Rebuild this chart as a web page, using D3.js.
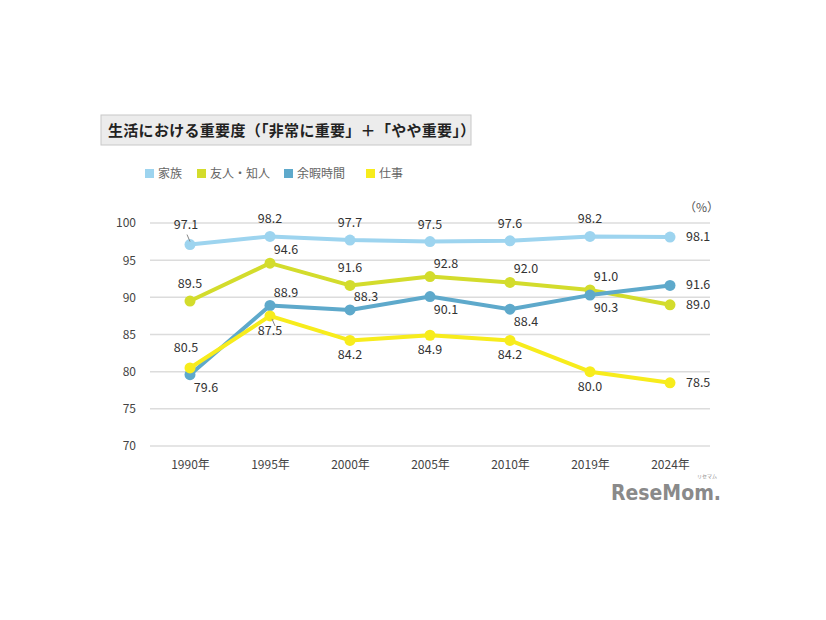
<!DOCTYPE html>
<html>
<head>
<meta charset="utf-8">
<script src="https://cdn.jsdelivr.net/npm/d3@7"></script>
<style>
  body { margin: 0; background: #fff; }
  svg { font-family: "Noto Sans CJK JP", "Noto Sans", sans-serif; }
</style>
</head>
<body>
<div id="chart"></div>
<script>
// Data
const years = ["1990年", "1995年", "2000年", "2005年", "2010年", "2019年", "2024年"];
const seriesNames = ["家族", "友人・知人", "余暇時間", "仕事"];
const family = [97.1, 98.2, 97.7, 97.5, 97.6, 98.2, 98.1];
const friends = [89.5, 94.6, 91.6, 92.8, 92.0, 91.0, 89.0];
const leisure = [79.6, 88.9, 88.3, 90.1, 88.4, 90.3, 91.6];
const work = [80.5, 87.5, 84.2, 84.9, 84.2, 80.0, 78.5];
const yTicks = [70, 75, 80, 85, 90, 95, 100];

// label placement per point (a = above, b = below, r = right, ar = above-right, br = below-right, al = above-left)
const familyPos = ["al", "a", "a", "a", "a", "a", "r"];
const friendsPos = ["a", "ar", "a", "ar", "ar", "ar", "r"];
const leisurePos = ["br", "ar", "ar", "br", "br", "br", "r"];
const workPos = ["al", "b", "b", "b", "b", "b", "r"];

const colors = ["#9dd4ef", "#d3dc2c", "#5ea9cb", "#f7ec1c"];

const width = 826, height = 620;
const svg = d3.select("#chart").append("svg")
    .attr("width", width)
    .attr("height", height);

// Title box
svg.append("rect")
    .attr("x", 101).attr("y", 115)
    .attr("width", 370).attr("height", 30)
    .attr("fill", "#ececec")
    .attr("stroke", "#c8c8c8");
svg.append("text")
    .attr("x", 108).attr("y", 136)
    .attr("font-size", 15)
    .attr("font-weight", "bold")
    .attr("letter-spacing", 0.3)
    .attr("fill", "#222")
    .text("生活における重要度（「非常に重要」＋「やや重要」）");

// Legend
const legendX = [145, 197, 284, 366];
const legend = svg.append("g");
seriesNames.forEach((name, i) => {
    legend.append("rect")
        .attr("x", legendX[i]).attr("y", 169)
        .attr("width", 9).attr("height", 9)
        .attr("fill", colors[i]);
    legend.append("text")
        .attr("x", legendX[i] + 13).attr("y", 178)
        .attr("font-size", 12)
        .attr("fill", "#666")
        .text(name);
});

// Scales
const x = d3.scalePoint()
    .domain(years)
    .range([150, 710])
    .padding(0.5);

const y = d3.scaleLinear()
    .domain([70, 100])
    .range([446, 223]);

// Grid lines
svg.append("g")
    .selectAll("line")
    .data(yTicks)
    .join("line")
    .attr("x1", 150).attr("x2", 710)
    .attr("y1", d => y(d)).attr("y2", d => y(d))
    .attr("stroke", "#dcdcdc")
    .attr("stroke-width", 1.5);

// Y axis
const yAxis = svg.append("g")
    .attr("transform", "translate(140,0)")
    .call(d3.axisLeft(y).tickValues(yTicks).tickSize(0).tickPadding(4));
yAxis.select(".domain").remove();
yAxis.selectAll("text")
    .attr("font-size", 12)
    .attr("fill", "#444")
    .attr("font-family", "\"Noto Sans CJK JP\", sans-serif");

// X axis
const xAxis = svg.append("g")
    .attr("transform", "translate(0,458)")
    .call(d3.axisBottom(x).tickSize(0).tickPadding(2));
xAxis.select(".domain").remove();
xAxis.selectAll("text")
    .attr("font-size", 12)
    .attr("fill", "#444")
    .attr("font-family", "\"Noto Sans CJK JP\", sans-serif");

// (%)
svg.append("text")
    .attr("x", 684).attr("y", 212)
    .attr("font-size", 12)
    .attr("fill", "#555")
    .text("（%）");

// Series
const allSeries = [family, friends, leisure, work];
const allPos = [familyPos, friendsPos, leisurePos, workPos];

const line = d3.line()
    .x((d, i) => x(years[i]))
    .y(d => y(d));

allSeries.forEach((vals, s) => {
    const g = svg.append("g");
    g.append("path")
        .datum(vals)
        .attr("d", line)
        .attr("fill", "none")
        .attr("stroke", colors[s])
        .attr("stroke-width", 4)
        .attr("stroke-linejoin", "round");
    g.selectAll("circle")
        .data(vals)
        .join("circle")
        .attr("cx", (d, i) => x(years[i]))
        .attr("cy", d => y(d))
        .attr("r", 5.5)
        .attr("fill", colors[s]);
});

// Data labels
const offsets = {
    a: [0, -13, "middle"],
    b: [0, 19, "middle"],
    r: [16, 4, "start"],
    ar: [16, -9, "middle"],
    br: [16, 17, "middle"],
    al: [-4, -16, "middle"]
};

allSeries.forEach((vals, s) => {
    svg.append("g")
        .selectAll("text")
        .data(vals)
        .join("text")
        .attr("x", (d, i) => x(years[i]) + offsets[allPos[s][i]][0])
        .attr("y", (d, i) => y(d) + offsets[allPos[s][i]][1])
        .attr("text-anchor", (d, i) => offsets[allPos[s][i]][2])
        .attr("font-size", 12.5)
        .attr("fill", "#333")
        .text(d => d.toFixed(1));
});

// small leader lines
svg.append("line")
    .attr("x1", x(years[0]) - 3).attr("y1", y(family[0]) - 10)
    .attr("x2", x(years[0])).attr("y2", y(family[0]) - 3)
    .attr("stroke", "#888");
svg.append("line")
    .attr("x1", x(years[1]) + 2).attr("y1", y(work[1]) + 3)
    .attr("x2", x(years[1]) + 5).attr("y2", y(work[1]) + 10)
    .attr("stroke", "#888");

// Watermark
svg.append("text")
    .attr("x", 721).attr("y", 500)
    .attr("text-anchor", "end")
    .attr("font-size", 21)
    .attr("font-weight", "bold")
    .attr("font-family", "\"Liberation Sans Narrow\", \"DejaVu Sans Condensed\", sans-serif")
    .attr("fill", "#8a8a8a")
    .text("ReseMom.");
svg.append("text")
    .attr("x", 717).attr("y", 478)
    .attr("text-anchor", "end")
    .attr("font-size", 5)
    .attr("fill", "#8a8a8a")
    .text("リセマム");
</script>
</body>
</html>
